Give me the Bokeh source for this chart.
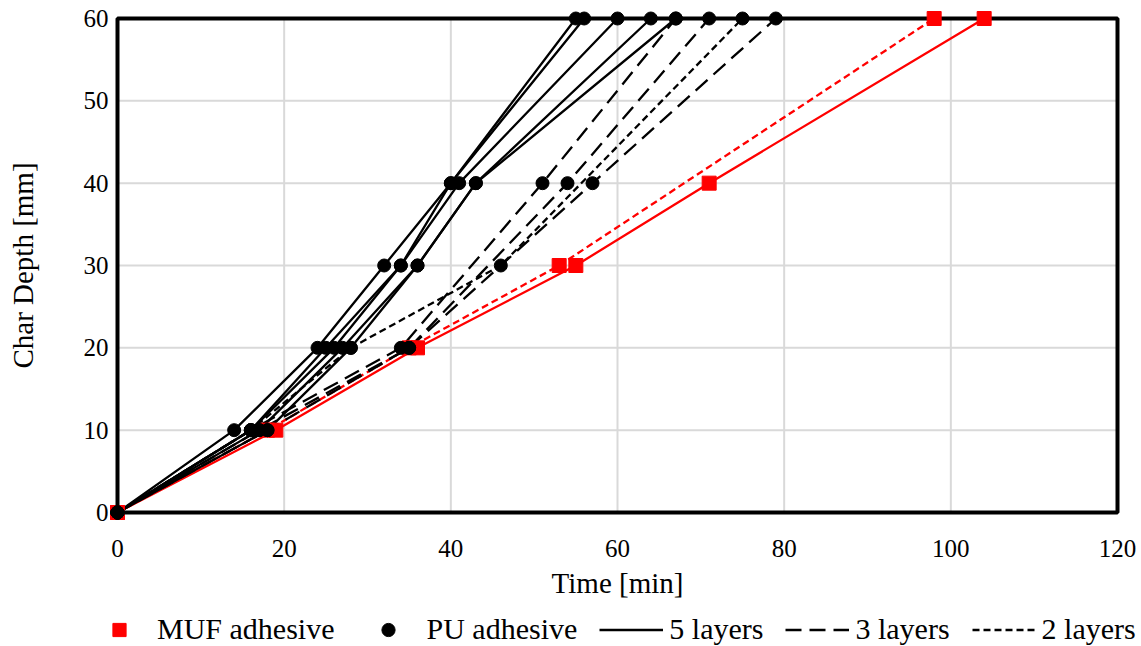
import math
from bokeh.plotting import figure
from bokeh.models import Range1d, Legend, LegendItem
from bokeh.core.properties import value
from bokeh.embed import file_html
from bokeh.resources import INLINE

# ---- data ----
x_ticks = [0, 20, 40, 60, 80, 100, 120]
y_ticks = [0, 10, 20, 30, 40, 50, 60]
x_title = "Time [min]"
y_title = "Char Depth [mm]"

muf5_time = [0, 19, 36, 55, 71, 104]
muf5_depth = [0, 10, 20, 30, 40, 60]
muf2_time = [0, 18, 35, 53, 98]
muf2_depth = [0, 10, 20, 30, 60]

pu5_depth = [0, 10, 20, 30, 40, 60]
pu5_time_a = [0, 14, 24, 32, 40, 55]
pu5_time_b = [0, 16, 25, 34, 40, 56]
pu5_time_c = [0, 16, 26, 34, 41, 60]
pu5_time_d = [0, 17, 27, 36, 43, 64]
pu5_time_e = [0, 18, 28, 36, 43, 67]

pu3_depth = [0, 10, 20, 40, 60]
pu3_time_a = [0, 16, 34, 51, 67]
pu3_time_b = [0, 17, 35, 54, 71]
pu3_time_c = [0, 18, 35, 57, 79]

pu2_depth = [0, 10, 20, 30, 60]
pu2_time = [0, 16, 28, 46, 75]

FONT = value("Liberation Serif")
RED = "#ff0000"

# ---- layout (pixels) ----
W, H = 1141, 646
PX0, PX1 = 117, 1117     # screen x of first / last x tick
PY0, PY1 = 512, 18       # screen y of first / last y tick
xmin, xmax = x_ticks[0], x_ticks[-1]
ymin, ymax = y_ticks[0], y_ticks[-1]
sx = (PX1 - PX0) / (xmax - xmin)
sy = (PY0 - PY1) / (ymax - ymin)

p = figure(width=W, height=H,
           x_range=Range1d(xmin - PX0 / sx, xmin + (W - PX0) / sx),
           y_range=Range1d(ymin - (H - PY0) / sy, ymin + PY0 / sy),
           output_backend="svg", toolbar_location=None,
           x_axis_location=None, y_axis_location=None,
           min_border=0)
p.outline_line_color = None
p.xgrid.grid_line_color = None
p.ygrid.grid_line_color = None
p.background_fill_color = "white"
p.border_fill_color = "white"

# grid lines
gx = x_ticks[1:-1]
gy = y_ticks[1:-1]
p.segment(x0=gx, y0=[ymin] * len(gx), x1=gx, y1=[ymax] * len(gx),
          line_color="#d9d9d9", line_width=2)
p.segment(x0=[xmin] * len(gy), y0=gy, x1=[xmax] * len(gy), y1=gy,
          line_color="#d9d9d9", line_width=2)
# plot border
p.quad(left=[xmin], right=[xmax], bottom=[ymin], top=[ymax],
       fill_color=None, line_color="black", line_width=4)

# tick labels and axis titles
p.text(x=x_ticks, y=[ymin] * len(x_ticks), text=[str(t) for t in x_ticks],
       text_align="center", text_baseline="middle", y_offset=36,
       text_font=FONT, text_font_size="25px", text_color="black")
p.text(x=[xmin] * len(y_ticks), y=y_ticks, text=[str(t) for t in y_ticks],
       text_align="right", text_baseline="middle", x_offset=-9,
       text_font=FONT, text_font_size="25px", text_color="black")
p.text(x=[(xmin + xmax) / 2], y=[ymin], text=[x_title],
       text_align="center", text_baseline="middle", y_offset=70,
       text_font=FONT, text_font_size="29px", text_color="black")
p.text(x=[xmin], y=[(ymin + ymax) / 2], text=[y_title], angle=math.pi / 2,
       text_align="center", text_baseline="middle", x_offset=-95,
       text_font=FONT, text_font_size="29px", text_color="black")

LW = 2.3
# MUF lines
p.line(muf2_time, muf2_depth, line_color=RED, line_width=LW, line_dash="7 4")
p.line(muf5_time, muf5_depth, line_color=RED, line_width=LW)
# PU lines
l5 = None
for t in (pu5_time_a, pu5_time_b, pu5_time_c, pu5_time_d, pu5_time_e):
    r = p.line(t, pu5_depth, line_color="black", line_width=LW)
    l5 = l5 or r
l3 = None
for t in (pu3_time_a, pu3_time_b, pu3_time_c):
    r = p.line(t, pu3_depth, line_color="black", line_width=LW, line_dash="16 8")
    l3 = l3 or r
l2 = p.line(pu2_time, pu2_depth, line_color="black", line_width=LW, line_dash="7 4")

# markers
m_muf = p.scatter(muf2_time, muf2_depth, marker="square", size=14,
                  fill_color=RED, line_color=RED)
p.scatter(muf5_time, muf5_depth, marker="square", size=14,
          fill_color=RED, line_color=RED)
m_pu = None
for t in (pu5_time_a, pu5_time_b, pu5_time_c, pu5_time_d, pu5_time_e):
    r = p.scatter(t, pu5_depth, marker="circle", size=13,
                  fill_color="black", line_color="black")
    m_pu = m_pu or r
for t in (pu3_time_a, pu3_time_b, pu3_time_c):
    p.scatter(t, pu3_depth, marker="circle", size=13,
              fill_color="black", line_color="black")
p.scatter(pu2_time, pu2_depth, marker="circle", size=13,
          fill_color="black", line_color="black")

legend = Legend(items=[
    LegendItem(label="MUF adhesive", renderers=[m_muf]),
    LegendItem(label="PU adhesive", renderers=[m_pu]),
    LegendItem(label="5 layers", renderers=[l5]),
    LegendItem(label="3 layers", renderers=[l3]),
    LegendItem(label="2 layers", renderers=[l2]),
], orientation="horizontal", location=(87, 0),
    glyph_width=64, glyph_height=33, label_height=33, label_standoff=6,
    spacing=22, padding=0, margin=0, border_line_color=None,
    background_fill_alpha=0,
    label_text_font="Liberation Serif", label_text_font_size="30px",
    label_text_color="black")
p.add_layout(legend)

open("out.html", "w").write(file_html(p, INLINE))
